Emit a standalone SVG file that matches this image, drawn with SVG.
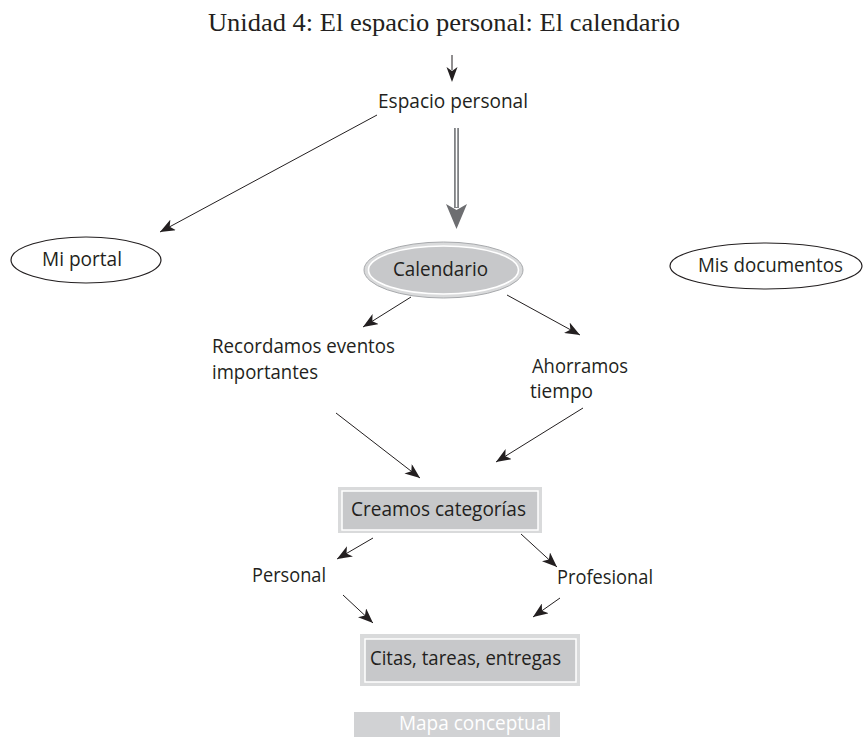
<svg xmlns="http://www.w3.org/2000/svg" width="865" height="737" viewBox="0 0 865 737">
<style>
.t{font-family:"Open Sans","Noto Sans","Liberation Sans",sans-serif;font-size:19.5px;fill:#231f20}
.title{font-family:"Liberation Serif","DejaVu Serif",serif;font-size:25px;fill:#231f20}
.c{stroke:#231f20;stroke-width:1;fill:none}
.oval{fill:#fff;stroke:#231f20;stroke-width:1.2}
</style>
<defs>
<marker id="ah" markerUnits="userSpaceOnUse" markerWidth="16" markerHeight="12" refX="15" refY="6" orient="auto">
<path d="M0,0 L15,6 L0,12 L4,6 Z" fill="#231f20"/>
</marker>
</defs>
<rect width="865" height="737" fill="#fff"/>
<text class="title" x="208" y="31" textLength="472" lengthAdjust="spacingAndGlyphs">Unidad 4: El espacio personal: El  calendario</text>

<g id="connectors">
<line class="c" x1="452" y1="55" x2="452" y2="70" stroke-width="1.6"/>
<path d="M446.5,67 L452,71 L457.5,67 L452,82 Z" fill="#231f20"/>
<line class="c" x1="377" y1="115" x2="160" y2="232" marker-end="url(#ah)"/>
<g id="double-arrow">
<rect x="454" y="128" width="5" height="80" fill="#808285"/>
<line x1="456.5" y1="128" x2="456.5" y2="207" stroke="#fff" stroke-width="1.4"/>
<path d="M446,204 L456.5,210 L467,204 L456.5,229 Z" fill="#6d6e71"/>
</g>
<line class="c" x1="411" y1="297" x2="363" y2="327" marker-end="url(#ah)"/>
<line class="c" x1="507" y1="295" x2="580" y2="335" marker-end="url(#ah)"/>
<line class="c" x1="336" y1="413" x2="420" y2="478" marker-end="url(#ah)"/>
<line class="c" x1="583" y1="408" x2="496" y2="462" marker-end="url(#ah)"/>
<line class="c" x1="373" y1="538" x2="337" y2="559" marker-end="url(#ah)"/>
<line class="c" x1="521" y1="534" x2="557" y2="567" marker-end="url(#ah)"/>
<line class="c" x1="343" y1="595" x2="373" y2="623" marker-end="url(#ah)"/>
<line class="c" x1="560" y1="598" x2="533" y2="617" marker-end="url(#ah)"/>
</g>

<g id="espacio-personal">
<text class="t" x="378" y="108" textLength="150" lengthAdjust="spacingAndGlyphs">Espacio  personal</text>
</g>
<g id="mi-portal">
<ellipse class="oval" cx="86" cy="260" rx="75" ry="23"/>
<text class="t" x="42" y="266" textLength="80" lengthAdjust="spacingAndGlyphs">Mi portal</text>
</g>
<g id="calendario">
<ellipse cx="443.5" cy="270" rx="79.5" ry="28" fill="#d9dadb" stroke="#a7a9ac" stroke-width="1"/>
<ellipse cx="443.5" cy="270" rx="75" ry="24" fill="#c7c8ca" stroke="#fff" stroke-width="1.6"/>
<text class="t" x="393" y="276" textLength="95" lengthAdjust="spacingAndGlyphs">Calendario</text>
</g>
<g id="mis-documentos">
<ellipse class="oval" cx="766" cy="266" rx="96" ry="23"/>
<text class="t" x="698" y="272" textLength="145" lengthAdjust="spacingAndGlyphs">Mis documentos</text>
</g>
<g id="recordamos">
<text class="t" x="212" y="353" textLength="183" lengthAdjust="spacingAndGlyphs">Recordamos eventos</text>
<text class="t" x="212" y="379" textLength="106" lengthAdjust="spacingAndGlyphs">importantes</text>
</g>
<g id="ahorramos">
<text class="t" x="532" y="373" textLength="96" lengthAdjust="spacingAndGlyphs">Ahorramos</text>
<text class="t" x="530" y="398" textLength="63" lengthAdjust="spacingAndGlyphs">tiempo</text>
</g>
<g id="creamos">
<rect x="338" y="487" width="204" height="46" fill="#d9dadb"/>
<rect x="342" y="491" width="196" height="39" fill="#c7c8ca" stroke="#fff" stroke-width="1.5"/>
<text class="t" x="351" y="516" textLength="175" lengthAdjust="spacingAndGlyphs">Creamos categorías</text>
</g>
<g id="personal">
<text class="t" x="252" y="582" textLength="74" lengthAdjust="spacingAndGlyphs">Personal</text>
</g>
<g id="profesional">
<text class="t" x="557" y="584" textLength="96" lengthAdjust="spacingAndGlyphs">Profesional</text>
</g>
<g id="citas">
<rect x="360" y="634" width="220" height="52" fill="#d9dadb"/>
<rect x="365" y="639" width="211" height="43" fill="#c7c8ca" stroke="#fff" stroke-width="1.5"/>
<text class="t" x="370" y="665" textLength="191" lengthAdjust="spacingAndGlyphs">Citas, tareas, entregas</text>
</g>
<g id="mapa-conceptual">
<rect x="354" y="712" width="206" height="25" fill="#d1d2d4"/>
<text class="t" x="399" y="730" textLength="152" lengthAdjust="spacingAndGlyphs" style="fill:#fff">Mapa conceptual</text>
</g>
</svg>
